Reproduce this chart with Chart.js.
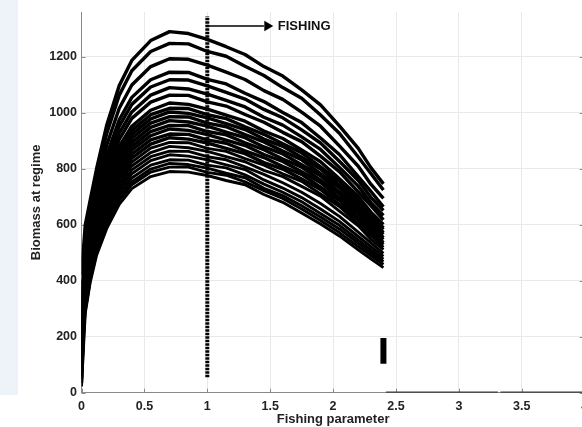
<!DOCTYPE html>
<html>
<head>
<meta charset="utf-8">
<script src="https://cdn.jsdelivr.net/npm/chart.js@4/dist/chart.umd.min.js"></script>
<style>
html,body{margin:0;padding:0;background:#fff;overflow:hidden;width:582px;height:427px;}
canvas{display:block;}
</style>
</head>
<body>
<canvas id="c" width="600" height="427"></canvas>
<script>
// x grid shared by every regime curve (fishing parameter)
const fishingParam = [0, 0.03, 0.07, 0.12, 0.2, 0.3, 0.4, 0.55, 0.7, 0.85, 1.0, 1.15, 1.3, 1.45, 1.6, 1.75, 1.9, 2.05, 2.2, 2.3, 2.4];

// biomass at regime, one array per simulated regime
const regime01 = [420, 600, 690, 800, 955, 1097, 1187, 1258, 1290, 1283, 1262, 1236, 1208, 1165, 1131, 1082, 1028, 953, 873, 804, 746];
const regime02 = [200, 560, 665, 775, 925, 1063, 1150, 1219, 1248, 1246, 1219, 1202, 1166, 1133, 1090, 1052, 992, 927, 842, 783, 724];
const regime03 = [330, 520, 630, 741, 884, 1016, 1099, 1165, 1193, 1191, 1170, 1145, 1119, 1079, 1048, 1002, 952, 882, 809, 745, 694];
const regime04 = [120, 490, 600, 711, 849, 975, 1055, 1118, 1145, 1144, 1119, 1103, 1070, 1040, 1001, 965, 910, 851, 772, 719, 664];
const regime05 = [280, 470, 590, 694, 829, 952, 1030, 1092, 1118, 1117, 1096, 1073, 1049, 1012, 982, 939, 892, 827, 758, 698, 651];
const regime06 = [80, 450, 570, 676, 807, 927, 1003, 1063, 1090, 1085, 1067, 1044, 1021, 984, 956, 914, 869, 805, 738, 679, 633];
const regime07 = [350, 440, 555, 660, 788, 905, 980, 1038, 1063, 1062, 1039, 1024, 994, 966, 930, 897, 845, 790, 717, 668, 617];
const regime08 = [180, 430, 535, 642, 766, 880, 952, 1009, 1035, 1030, 1013, 992, 970, 935, 908, 867, 825, 764, 701, 645, 601];
const regime09 = [390, 420, 525, 631, 753, 865, 937, 993, 1016, 1015, 993, 979, 950, 923, 889, 857, 807, 755, 685, 638, 589];
const regime10 = [50, 410, 515, 622, 742, 853, 923, 978, 1003, 998, 982, 961, 940, 906, 880, 841, 799, 740, 679, 625, 583];
const regime11 = [260, 400, 500, 613, 731, 840, 909, 963, 986, 985, 963, 950, 922, 896, 863, 832, 783, 733, 665, 620, 572];
const regime12 = [140, 392, 486, 603, 719, 826, 894, 948, 972, 967, 952, 931, 911, 878, 853, 814, 775, 717, 658, 606, 565];
const regime13 = [320, 384, 479, 593, 708, 813, 880, 933, 955, 954, 933, 921, 893, 868, 835, 806, 759, 710, 644, 600, 554];
const regime14 = [35, 376, 471, 584, 697, 801, 867, 918, 942, 937, 922, 902, 883, 851, 826, 789, 751, 695, 638, 587, 547];
const regime15 = [220, 368, 463, 574, 685, 787, 852, 903, 924, 923, 903, 891, 864, 840, 808, 780, 734, 687, 623, 581, 536];
const regime16 = [300, 360, 456, 565, 674, 774, 838, 888, 911, 906, 892, 873, 854, 822, 799, 763, 726, 672, 617, 567, 529];
const regime17 = [100, 350, 448, 556, 663, 762, 824, 874, 894, 893, 873, 862, 836, 813, 782, 755, 710, 665, 603, 562, 519];
const regime18 = [250, 340, 440, 546, 651, 748, 810, 858, 880, 875, 862, 843, 825, 794, 772, 737, 702, 649, 596, 548, 511];
const regime19 = [160, 330, 433, 536, 640, 735, 796, 843, 863, 862, 843, 832, 807, 780, 750, 716, 676, 630, 574, 535, 498];
const regime20 = [290, 320, 425, 527, 629, 723, 782, 829, 850, 845, 832, 814, 797, 760, 731, 697, 656, 612, 558, 522, 487];
const regime21 = [60, 310, 417, 517, 617, 709, 767, 813, 832, 831, 813, 803, 778, 745, 716, 682, 640, 598, 545, 510, 477];
const regime22 = [200, 300, 410, 508, 606, 696, 753, 799, 819, 815, 802, 784, 768, 730, 704, 668, 628, 585, 534, 500, 468];
const regime23 = [130, 292, 404, 501, 598, 687, 743, 788, 806, 806, 787, 777, 753, 722, 694, 656, 615, 572, 522, 490, 458];
const regime24 = [22, 285, 396, 491, 586, 673, 729, 772, 790, 788, 776, 758, 743, 708, 680, 642, 603, 560, 510, 478, 447];

// annotation values
const fishingStartX = 1;
const fishingLineY = [55, 1345];
const arrowY = 1310;
const arrowEndX = 1.45;
const arrowHeadX = 1.477;
const arrowLabel = 'FISHING';
const collapseX = 2.4;
const collapseY = [103, 195];
const zeroSegA = [2.42, 3.31];
const zeroSegB = [3.33, 4.0];

// axis ticks
const xTicks = [0, 0.5, 1, 1.5, 2, 2.5, 3, 3.5, 4];
const yTicks = [0, 200, 400, 600, 800, 1000, 1200];
const xTitle = 'Fishing parameter';
const yTitle = 'Biomass at regime';

const regimes = [regime01, regime02, regime03, regime04, regime05, regime06, regime07, regime08,
  regime09, regime10, regime11, regime12, regime13, regime14, regime15, regime16,
  regime17, regime18, regime19, regime20, regime21, regime22, regime23, regime24];

const datasets = regimes.map((r, k) => ({
  data: r.map((v, i) => ({x: fishingParam[i], y: v})),
  borderColor: '#000',
  borderWidth: k >= 16 ? 2.9 : 3.4,
  borderJoinStyle: 'round',
  pointRadius: 0,
  tension: 0
}));

datasets.push({
  data: fishingLineY.map(v => ({x: fishingStartX, y: v})),
  borderColor: '#000', borderWidth: 4, borderDash: [2.5, 1], pointRadius: 0, borderCapStyle: 'butt'
});
datasets.push({
  data: [{x: fishingStartX, y: arrowY}, {x: arrowEndX, y: arrowY}],
  borderColor: '#000', borderWidth: 1.5, pointRadius: 0
});
datasets.push({
  data: [{x: arrowHeadX, y: arrowY}],
  showLine: false, pointStyle: 'triangle', pointRotation: 90, pointRadius: 6,
  pointBackgroundColor: '#000', pointBorderColor: '#000', pointBorderWidth: 0
});
datasets.push({
  data: collapseY.map(v => ({x: collapseX, y: v})),
  borderColor: '#000', borderWidth: 6, pointRadius: 0, borderCapStyle: 'butt'
});
[zeroSegA, zeroSegB].forEach(seg => datasets.push({
  data: seg.map(x => ({x: x, y: 0})),
  borderColor: '#3a3a3a', borderWidth: 2.5, pointRadius: 0
}));

const FONT = '"Liberation Sans", Arial, sans-serif';

const decor = {
  id: 'decor',
  beforeDraw(chart) {
    const ctx = chart.ctx;
    ctx.save();
    ctx.fillStyle = '#eef3fa';
    ctx.fillRect(0, 0, 18, 395);
    ctx.restore();
  },
  beforeDatasetsDraw(chart) {
    const ctx = chart.ctx, xs = chart.scales.x, ys = chart.scales.y, a = chart.chartArea;
    ctx.save();
    ctx.strokeStyle = '#8a8a8a';
    ctx.lineWidth = 1;
    ctx.beginPath();
    xTicks.forEach(t => { const px = Math.round(xs.getPixelForValue(t)) + 0.5; ctx.moveTo(px, a.bottom); ctx.lineTo(px, a.bottom - 4); });
    yTicks.forEach(t => { const py = Math.round(ys.getPixelForValue(t)) + 0.5; ctx.moveTo(a.left, py); ctx.lineTo(a.left + 4, py); ctx.moveTo(a.right, py); ctx.lineTo(a.right - 5, py); });
    ctx.stroke();
    ctx.restore();
  },
  afterDatasetsDraw(chart) {
    const ctx = chart.ctx, xs = chart.scales.x, ys = chart.scales.y;
    ctx.save();
    ctx.fillStyle = '#111';
    ctx.font = 'bold 13px ' + FONT;
    ctx.textBaseline = 'middle';
    ctx.textAlign = 'left';
    ctx.fillText(arrowLabel, xs.getPixelForValue(arrowHeadX) + 10.5, ys.getPixelForValue(arrowY) + 0.5);
    ctx.restore();
  }
};

new Chart(document.getElementById('c'), {
  type: 'line',
  data: {datasets},
  plugins: [decor],
  options: {
    responsive: false,
    animation: false,
    events: [],
    layout: {padding: {left: 0, right: 15.3, top: 7.3, bottom: 0}},
    plugins: {legend: {display: false}, tooltip: {enabled: false}},
    scales: {
      x: {
        type: 'linear', min: 0, max: 4,
        afterBuildTicks: s => { s.ticks = xTicks.map(v => ({value: v})); },
        afterFit: s => { s.height = 34.3; },
        ticks: {color: '#222', font: {family: FONT, size: 12.5, weight: 'bold'}, padding: 6, maxRotation: 0,
          callback: v => String(v)},
        grid: {color: '#e9e9e9', drawTicks: false},
        border: {color: '#8a8a8a', width: 1},
        title: {display: true, text: xTitle, color: '#222', font: {family: FONT, size: 13, weight: 'bold'}, padding: {top: 0, bottom: 0}}
      },
      y: {
        type: 'linear', min: 0, max: 1360,
        afterBuildTicks: s => { s.ticks = yTicks.map(v => ({value: v})); },
        afterFit: s => { s.width = 81.5; },
        ticks: {color: '#222', font: {family: FONT, size: 12.5, weight: 'bold'}, padding: 4.5,
          callback: v => String(v)},
        grid: {color: '#e9e9e9', drawTicks: false},
        border: {color: '#8a8a8a', width: 1},
        title: {display: true, text: yTitle, color: '#222', font: {family: FONT, size: 13, weight: 'bold'}, padding: {top: 29, bottom: 0}}
      }
    }
  }
});
</script>
</body>
</html>
